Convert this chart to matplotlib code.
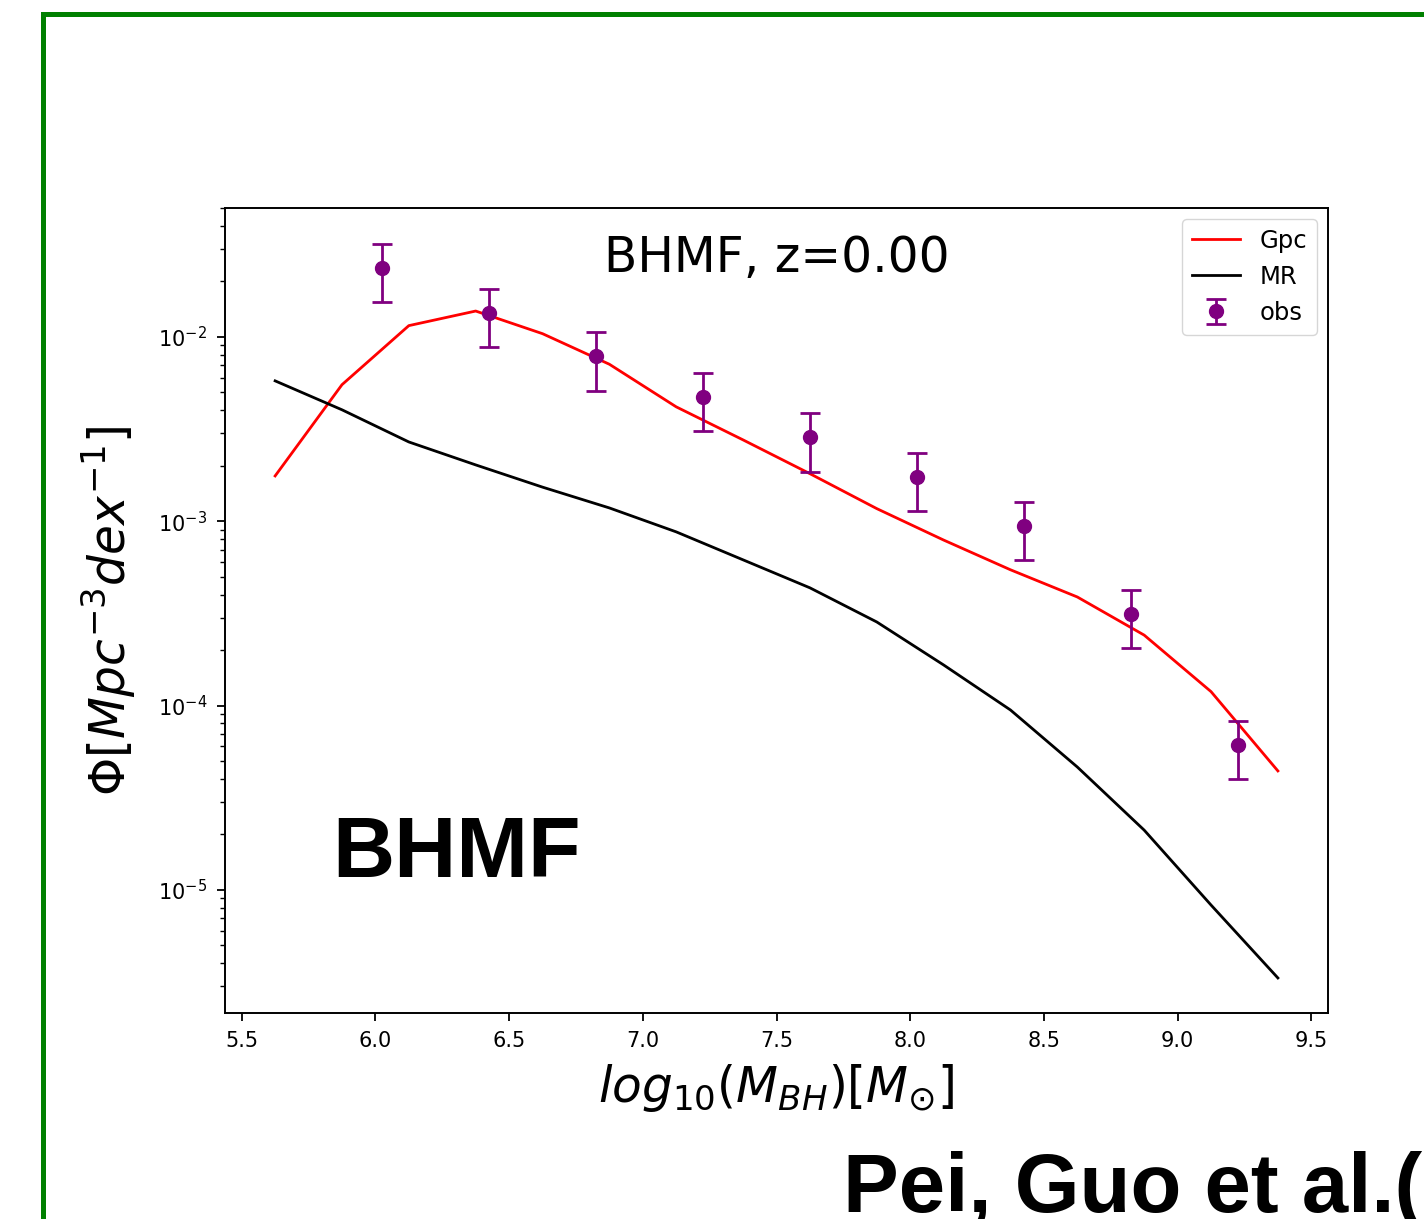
import numpy as np
import matplotlib
matplotlib.use("Agg")
import matplotlib.pyplot as plt
from matplotlib.patches import Rectangle

# bin centres of the model mass function
log_mbh = [5.625, 5.875, 6.125, 6.375, 6.625, 6.875, 7.125, 7.375,
           7.625, 7.875, 8.125, 8.375, 8.625, 8.875, 9.125, 9.375]
phi_gpc = [1.76e-3, 5.50e-3, 1.15e-2, 1.38e-2, 1.04e-2, 7.1e-3, 4.17e-3, 2.76e-3,
           1.81e-3, 1.17e-3, 7.9e-4, 5.45e-4, 3.88e-4, 2.41e-4, 1.19e-4, 4.42e-5]
phi_mr = [5.77e-3, 4.02e-3, 2.69e-3, 2.02e-3, 1.53e-3, 1.18e-3, 8.75e-4, 6.17e-4,
          4.35e-4, 2.84e-4, 1.66e-4, 9.46e-5, 4.64e-5, 2.11e-5, 8.28e-6, 3.33e-6]

# observed BHMF
obs_x = [6.025, 6.425, 6.825, 7.225, 7.625, 8.025, 8.425, 8.825, 9.225]
obs_phi = [2.37e-2, 1.35e-2, 7.88e-3, 4.72e-3, 2.86e-3, 1.74e-3, 9.44e-4, 3.14e-4, 6.11e-5]
obs_err = [8.3e-3, 4.7e-3, 2.8e-3, 1.65e-3, 1.0e-3, 6.1e-4, 3.3e-4, 1.1e-4, 2.1e-5]

fig = plt.figure(figsize=(14.24, 12.19), dpi=100)
ax = fig.add_axes([0.158, 0.169, 0.7746, 0.6604])

ax.plot(log_mbh, phi_gpc, color='red', lw=2, label='Gpc')
ax.plot(log_mbh, phi_mr, color='black', lw=2, label='MR')
ax.errorbar(obs_x, obs_phi, yerr=obs_err, fmt='o', color='purple', ms=10,
            elinewidth=2, capsize=7, capthick=2, label='obs')
ax.set_yscale('log')
ax.set_ylim(2.15e-6, 5.0e-2)

ax.set_xlabel(r'$log_{10}(M_{BH})[M_{\odot}]$', fontsize=35, labelpad=8)
ax.set_ylabel(r'$\Phi[Mpc^{-3}dex^{-1}]$', fontsize=35, labelpad=14)
ax.tick_params(labelsize=15, width=1.3)
ax.tick_params(which='major', length=6)
ax.tick_params(which='minor', length=3.5, width=1.0)
ax.tick_params(axis='y', which='major', pad=7)
ax.tick_params(axis='x', which='major', pad=7)
for sp in ax.spines.values():
    sp.set_linewidth(1.4)

ax.text(0.5, 0.938, 'BHMF, z=0.00', transform=ax.transAxes, ha='center',
        va='center', fontsize=35)
ax.legend(loc='upper right', fontsize=17.5, borderaxespad=0.45)

ax.text(0.097, 0.169, 'BHMF', transform=ax.transAxes, fontsize=62,
        fontweight='bold', family='Liberation Sans')
fig.text(843 / 1424, 7 / 1219, 'Pei, Guo et al.(', fontsize=60,
         fontweight='bold', family='Liberation Sans')

# green frame of the slide
fig.patches.append(Rectangle((42.5 / 1424, -0.1), 1.2, 1 - 13.5 / 1219 + 0.1,
                             transform=fig.transFigure, fill=False,
                             edgecolor='green', lw=3.6))

fig.savefig('out.png', dpi=100)
